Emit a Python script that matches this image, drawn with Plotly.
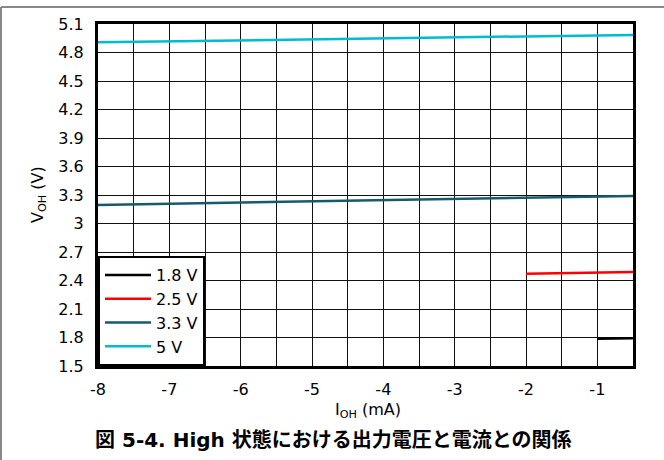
import plotly.graph_objects as go

FONT = "DejaVu Sans"
CAP_FONT = "DejaVu Sans, Noto Sans CJK JP"

# Data
x_18 = [-1.0, -0.5]
y_18 = [1.787, 1.792]
x_25 = [-2.0, -0.5]
y_25 = [2.472, 2.49]
x_33 = [-8.0, -0.5]
y_33 = [3.195, 3.29]
x_5 = [-8.0, -0.5]
y_5 = [4.907, 4.985]

x_tickvals = [-8, -7, -6, -5, -4, -3, -2, -1]
x_ticktext = ["-8", "-7", "-6", "-5", "-4", "-3", "-2", "-1"]
y_tickvals = [1.5, 1.8, 2.1, 2.4, 2.7, 3.0, 3.3, 3.6, 3.9, 4.2, 4.5, 4.8, 5.1]
y_ticktext = ["1.5", "1.8", "2.1", "2.4", "2.7", "3", "3.3", "3.6", "3.9", "4.2", "4.5", "4.8", "5.1"]

series = [
    ("1.8 V", x_18, y_18, "#000000"),
    ("2.5 V", x_25, y_25, "#ff0000"),
    ("3.3 V", x_33, y_33, "#175a6b"),
    ("5 V", x_5, y_5, "#00bcd0"),
]

fig = go.Figure()
for name, xs, ys, col in series:
    fig.add_trace(go.Scatter(x=xs, y=ys, mode="lines", name=name,
                             line=dict(color=col, width=2.5)))

fig.update_layout(
    width=664, height=460,
    margin=dict(l=98, r=31, t=24, b=94),
    paper_bgcolor="white", plot_bgcolor="white",
    font=dict(family=FONT, size=16, color="#000"),
    showlegend=True,
    legend=dict(x=0.0, y=0.0, xanchor="left", yanchor="bottom",
                bgcolor="white", bordercolor="black", borderwidth=2,
                font=dict(size=16), tracegroupgap=0, itemwidth=46,
                traceorder="normal"),
    xaxis=dict(range=[-8, -0.5], tickvals=x_tickvals, ticktext=x_ticktext, showgrid=True,
               gridcolor="#111", gridwidth=1, zeroline=False,
               showline=True, linecolor="black", linewidth=3, mirror=True,
               ticks="", tickfont=dict(size=16), ticklabelstandoff=7,
               minor=dict(dtick=0.5, tick0=-8, showgrid=True, gridcolor="#111", gridwidth=1)),
    yaxis=dict(range=[1.5, 5.1], tickvals=y_tickvals, ticktext=y_ticktext, showgrid=True,
               gridcolor="#111", gridwidth=1, zeroline=False,
               showline=True, linecolor="black", linewidth=3, mirror=True,
               ticks="", tickfont=dict(size=16), ticklabelstandoff=8),
    annotations=[
        dict(text="V<sub>OH</sub> (V)", xref="paper", yref="paper",
             x=(38 - 98) / 535, y=0.5, xanchor="center", yanchor="middle",
             textangle=-90, showarrow=False, font=dict(size=16, family=FONT)),
        dict(text="I<sub>OH</sub> (mA)", xref="paper", yref="paper",
             x=(368 - 98) / 535, y=(366 - 410) / 342, xanchor="center", yanchor="middle",
             showarrow=False, font=dict(size=16, family=FONT)),
        dict(text="<b>図 5-4. High 状態における出力電圧と電流との関係</b>",
             xref="paper", yref="paper", x=(333 - 98) / 535, y=(366 - 440) / 342,
             xanchor="center", yanchor="middle", showarrow=False,
             font=dict(size=20, family=CAP_FONT)),
    ],
    shapes=[
        dict(type="line", xref="paper", yref="paper", x0=(1 - 98) / 535, x1=(664 - 98) / 535,
             y0=(366 - 7) / 342, y1=(366 - 7) / 342, line=dict(color="#888", width=2)),
        dict(type="line", xref="paper", yref="paper", x0=(1 - 98) / 535, x1=(1 - 98) / 535,
             y0=(366 - 7) / 342, y1=(366 - 460) / 342, line=dict(color="#888", width=2)),
    ],
)

fig.write_html("out.html", config={"displayModeBar": False},
               post_script="document.body.style.margin='0';")
